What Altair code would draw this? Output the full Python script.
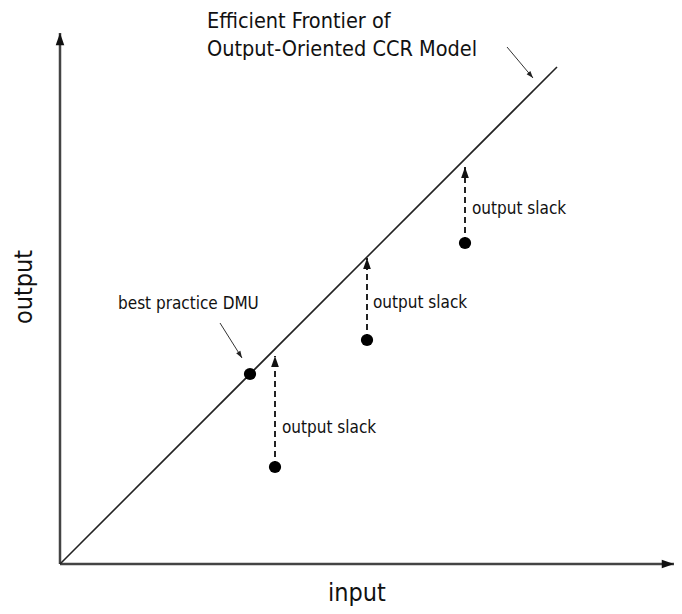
import altair as alt
import pandas as pd

# ---- data (abstract input/output units) ----
frontier_x = [0.0, 9.94]
frontier_y = [0.0, 9.94]

dmu_input = [3.8, 4.3, 6.14, 8.1]
dmu_output = [3.8, 1.94, 4.48, 6.42]

slack_input = [4.3, 6.14, 8.1]
slack_from = [1.94, 4.48, 6.42]
slack_to = [4.16, 6.12, 7.94]

slack_label_x = [4.44, 6.26, 8.24]
slack_label_y = [2.62, 5.12, 7.0]
slack_labels = ["output slack", "output slack", "output slack"]

title_lines = ["Efficient Frontier of", "Output-Oriented CCR Model"]
title_x = [2.94, 2.94]
title_y = [10.72, 10.16]

best_label = ["best practice DMU"]
best_label_x = [1.16]
best_label_y = [5.1]

pointer_x = [8.94, 3.2]
pointer_y = [10.34, 4.82]
pointer_x2 = [9.46, 3.64]
pointer_y2 = [9.72, 4.12]
pointer_angle = [140, 148]

axis_end_x = [12.28, 0.0]
axis_end_y = [0.0, 10.62]
axis_end_angle = [90, 0]

x_title = ["input"]
y_title = ["output"]

xmin, xmax = -1.04, 12.28
ymin, ymax = -0.84, 11.12

FONT = "Liberation Sans Narrow, DejaVu Sans Condensed, sans-serif"
ARROW = "M0,0L-0.7,2L0.7,2Z"
TXT = "#111111"

xs = alt.Scale(domain=[xmin, xmax], nice=False, zero=False)
ys = alt.Scale(domain=[ymin, ymax], nice=False, zero=False)


def X(f="x"):
    return alt.X(f"{f}:Q", scale=xs, axis=None)


def Y(f="y"):
    return alt.Y(f"{f}:Q", scale=ys, axis=None)


# axes
axes_df = pd.DataFrame({
    "x": [0.0, 0.0], "y": [0.0, 0.0],
    "x2": axis_end_x, "y2": axis_end_y, "angle": axis_end_angle,
})
axes = alt.Chart(axes_df).mark_rule(color="#444444", strokeWidth=2.5).encode(
    x=X(), y=Y(), x2="x2:Q", y2="y2:Q")
axis_heads = alt.Chart(axes_df).mark_point(
    shape=ARROW, filled=True, color="#111111", size=150, opacity=1
).encode(x=X("x2"), y=Y("y2"), angle=alt.Angle("angle:Q", scale=None))

# frontier
fr_df = pd.DataFrame({"x": [frontier_x[0]], "y": [frontier_y[0]],
                      "x2": [frontier_x[1]], "y2": [frontier_y[1]]})
frontier = alt.Chart(fr_df).mark_rule(color="#222222", strokeWidth=1.6).encode(
    x=X(), y=Y(), x2="x2:Q", y2="y2:Q")

# dmu points
pts_df = pd.DataFrame({"x": dmu_input, "y": dmu_output})
points = alt.Chart(pts_df).mark_circle(color="#000000", size=150, opacity=1).encode(
    x=X(), y=Y())

# slack arrows
sl_df = pd.DataFrame({"x": slack_input, "y": slack_from, "y2": slack_to})
slack = alt.Chart(sl_df).mark_rule(color="#222222", strokeWidth=2,
                                   strokeDash=[6, 4]).encode(
    x=X(), y=Y(), y2="y2:Q")
slack_heads = alt.Chart(sl_df).mark_point(
    shape=ARROW, filled=True, color="#111111", size=121, opacity=1
).encode(x=X(), y=Y("y2"))

sl_lab_df = pd.DataFrame({"x": slack_label_x, "y": slack_label_y, "t": slack_labels})
slack_text = alt.Chart(sl_lab_df).mark_text(
    align="left", baseline="alphabetic", font=FONT, fontSize=17, color=TXT
).encode(x=X(), y=Y(), text="t:N")

# pointer arrows
ptr_df = pd.DataFrame({"x": pointer_x, "y": pointer_y, "x2": pointer_x2,
                       "y2": pointer_y2, "angle": pointer_angle})
pointers = alt.Chart(ptr_df).mark_rule(color="#333333", strokeWidth=1).encode(
    x=X(), y=Y(), x2="x2:Q", y2="y2:Q")
pointer_heads = alt.Chart(ptr_df).mark_point(
    shape=ARROW, filled=True, color="#222222", size=49, opacity=1
).encode(x=X("x2"), y=Y("y2"), angle=alt.Angle("angle:Q", scale=None))

# texts
title_df = pd.DataFrame({"x": title_x, "y": title_y, "t": title_lines})
title = alt.Chart(title_df).mark_text(
    align="left", baseline="alphabetic", font=FONT, fontSize=21.5, color=TXT
).encode(x=X(), y=Y(), text="t:N")

best_df = pd.DataFrame({"x": best_label_x, "y": best_label_y, "t": best_label})
best = alt.Chart(best_df).mark_text(
    align="left", baseline="alphabetic", font=FONT, fontSize=17, color=TXT
).encode(x=X(), y=Y(), text="t:N")

xt_df = pd.DataFrame({"x": [5.94], "y": [-0.74], "t": x_title})
xt = alt.Chart(xt_df).mark_text(
    align="center", baseline="alphabetic", font=FONT, fontSize=25, color=TXT
).encode(x=X(), y=Y(), text="t:N")

yt_df = pd.DataFrame({"x": [-0.72], "y": [5.54], "t": y_title})
yt = alt.Chart(yt_df).mark_text(
    align="center", baseline="middle", angle=270, font=FONT, fontSize=25,
    color=TXT
).encode(x=X(), y=Y(), text="t:N")

chart = alt.layer(
    axes, axis_heads, frontier, slack, slack_heads, points, pointers,
    pointer_heads, title, best, slack_text, xt, yt
).properties(
    width=666, height=598, autosize=alt.AutoSizeParams(type="none"),
    padding=0, background="white"
).configure_view(stroke=None)

chart.save("out.html", embed_options={"renderer": "svg", "actions": False})
